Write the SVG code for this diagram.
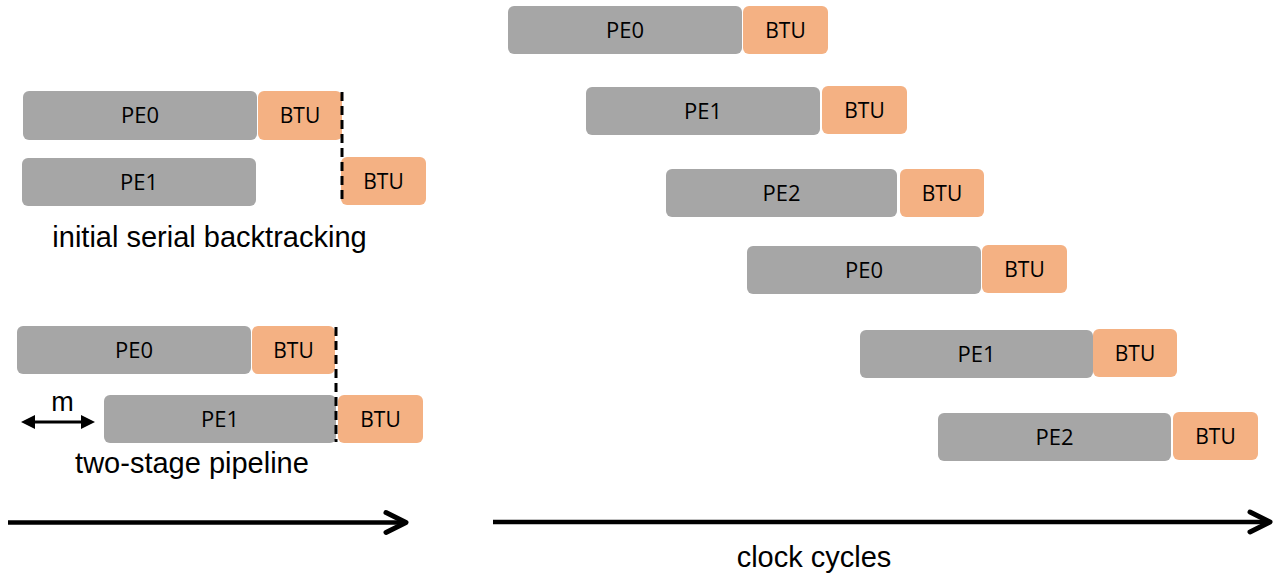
<svg xmlns="http://www.w3.org/2000/svg" width="1274" height="575" viewBox="0 0 1274 575">
  <style>
    .pe { fill: #A6A6A6; }
    .btu { fill: #F4B183; }
    .lbl { font-family: "Open Sans", "Noto Sans", sans-serif; font-size: 21px; fill: #000; text-anchor: middle; }
    .cap { font-family: "Liberation Sans", Arial, sans-serif; font-size: 29px; fill: #000; text-anchor: middle; }
    .dash { stroke: #000; stroke-width: 3; stroke-dasharray: 9 5; fill: none; }
    .axis { stroke: #000; stroke-width: 4.5; fill: none; }
    .span { stroke: #000; stroke-width: 3; fill: none; }
  </style>
  <defs>
    <marker id="chev" markerUnits="userSpaceOnUse" viewBox="-26 -15 30 30" markerWidth="30" markerHeight="30" refX="0" refY="0" orient="auto">
      <path d="M-20,-10 L0,0 L-20,10" fill="none" stroke="#000" stroke-width="5" stroke-linecap="round" stroke-linejoin="round"/>
    </marker>
    <marker id="tri" markerUnits="userSpaceOnUse" viewBox="0 -8 15 16" markerWidth="15" markerHeight="16" refX="0" refY="0" orient="auto-start-reverse">
      <path d="M0,-7 L14,0 L0,7 z" fill="#000"/>
    </marker>
  </defs>

  <!-- initial serial backtracking -->
  <g id="ser-pe0"><rect class="pe" x="23" y="91" width="234" height="49" rx="6"/><text class="lbl" x="140" y="123" textLength="38" lengthAdjust="spacingAndGlyphs">PE0</text></g>
  <g id="ser-btu0"><rect class="btu" x="258" y="91" width="84" height="49" rx="6"/><text class="lbl" x="300" y="123">BTU</text></g>
  <g id="ser-pe1"><rect class="pe" x="22" y="158" width="234" height="48" rx="6"/><text class="lbl" x="139" y="189.5" textLength="38" lengthAdjust="spacingAndGlyphs">PE1</text></g>
  <g id="ser-btu1"><rect class="btu" x="341" y="157" width="85" height="48" rx="6"/><text class="lbl" x="383.5" y="188.5">BTU</text></g>
  <text class="cap" x="209.5" y="247">initial serial backtracking</text>

  <!-- two-stage pipeline -->
  <g id="pipe-pe0"><rect class="pe" x="17" y="326" width="234" height="48" rx="6"/><text class="lbl" x="134" y="357.5" textLength="38" lengthAdjust="spacingAndGlyphs">PE0</text></g>
  <g id="pipe-btu0"><rect class="btu" x="252" y="326" width="83" height="48" rx="6"/><text class="lbl" x="293.5" y="357.5">BTU</text></g>
  <g id="pipe-pe1"><rect class="pe" x="104" y="395" width="232" height="48" rx="6"/><text class="lbl" x="220" y="426.5" textLength="38" lengthAdjust="spacingAndGlyphs">PE1</text></g>
  <g id="pipe-btu1"><rect class="btu" x="338" y="395" width="85" height="48" rx="6"/><text class="lbl" x="380.5" y="426.5">BTU</text></g>
  <text class="cap" x="62.5" y="411" style="font-size:27px">m</text>
  <text class="cap" x="192" y="473">two-stage pipeline</text>

  <!-- clock-cycle schedule -->
  <g id="clk-pe0-a"><rect class="pe" x="508" y="6" width="234" height="48" rx="6"/><text class="lbl" x="625" y="37.5" textLength="38" lengthAdjust="spacingAndGlyphs">PE0</text></g>
  <g id="clk-btu-a"><rect class="btu" x="743" y="6" width="85" height="48" rx="6"/><text class="lbl" x="785.5" y="37.5">BTU</text></g>
  <g id="clk-pe1-a"><rect class="pe" x="586" y="87" width="234" height="48" rx="6"/><text class="lbl" x="703" y="118.5" textLength="38" lengthAdjust="spacingAndGlyphs">PE1</text></g>
  <g id="clk-btu-b"><rect class="btu" x="822" y="86" width="85" height="48" rx="6"/><text class="lbl" x="864.5" y="117.5">BTU</text></g>
  <g id="clk-pe2-a"><rect class="pe" x="666" y="169" width="231" height="48" rx="6"/><text class="lbl" x="781.5" y="200.5" textLength="38" lengthAdjust="spacingAndGlyphs">PE2</text></g>
  <g id="clk-btu-c"><rect class="btu" x="900" y="169" width="84" height="48" rx="6"/><text class="lbl" x="942" y="200.5">BTU</text></g>
  <g id="clk-pe0-b"><rect class="pe" x="747" y="246" width="234" height="48" rx="6"/><text class="lbl" x="864" y="277.5" textLength="38" lengthAdjust="spacingAndGlyphs">PE0</text></g>
  <g id="clk-btu-d"><rect class="btu" x="982" y="245" width="85" height="48" rx="6"/><text class="lbl" x="1024.5" y="276.5">BTU</text></g>
  <g id="clk-pe1-b"><rect class="pe" x="860" y="330" width="233" height="48" rx="6"/><text class="lbl" x="976.5" y="361.5" textLength="38" lengthAdjust="spacingAndGlyphs">PE1</text></g>
  <g id="clk-btu-e"><rect class="btu" x="1093" y="329" width="84" height="48" rx="6"/><text class="lbl" x="1135" y="360.5">BTU</text></g>
  <g id="clk-pe2-b"><rect class="pe" x="938" y="413" width="233" height="48" rx="6"/><text class="lbl" x="1054.5" y="444.5" textLength="38" lengthAdjust="spacingAndGlyphs">PE2</text></g>
  <g id="clk-btu-f"><rect class="btu" x="1173" y="412" width="85" height="48" rx="6"/><text class="lbl" x="1215.5" y="443.5">BTU</text></g>
  <text class="cap" x="814" y="567">clock cycles</text>

  <!-- connectors: hand-off lines, offset span and time axes -->
  <g id="connectors">
    <line class="dash" x1="342" y1="92" x2="342" y2="204"/>
    <line class="dash" x1="336" y1="327" x2="336" y2="442"/>
    <line class="span" x1="35" y1="422" x2="81" y2="422" marker-start="url(#tri)" marker-end="url(#tri)"/>
    <line class="axis" x1="8" y1="522.5" x2="406" y2="522.5" marker-end="url(#chev)"/>
    <line class="axis" x1="493" y1="522" x2="1270" y2="522" marker-end="url(#chev)"/>
  </g>
</svg>
